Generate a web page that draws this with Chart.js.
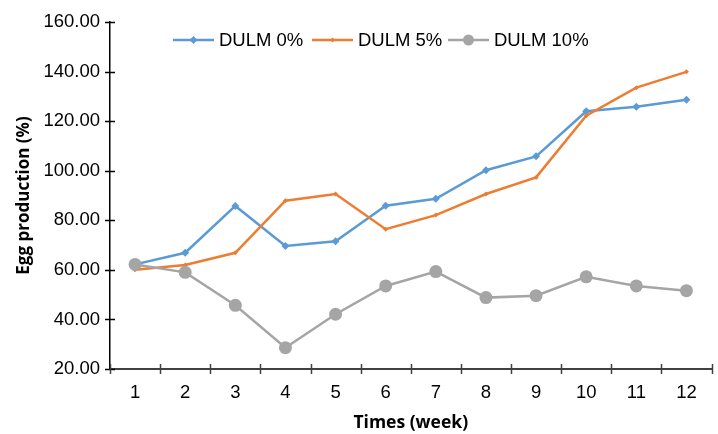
<!DOCTYPE html>
<html>
<head>
<meta charset="utf-8">
<script src="https://cdn.jsdelivr.net/npm/chart.js@4.4.0/dist/chart.umd.min.js"></script>
<style>
    html, body { margin: 0; padding: 0; background: #ffffff; }
    #wrap { width: 718px; height: 434px; position: relative; }
</style>
</head>
<body>
<div id="wrap"><canvas id="chartHuevos"></canvas></div>
<script>
// ===== Egg production chart =====

const semanas = ['1', '2', '3', '4', '5', '6', '7', '8', '9', '10', '11', '12'];
const dulm0 = [62.2, 66.9, 85.8, 69.6, 71.5, 85.9, 88.7, 100.2, 105.8, 124.0, 125.8, 128.6];
const dulm5 = [60.0, 62.0, 66.9, 87.9, 90.6, 76.4, 82.1, 90.6, 97.3, 122.2, 133.5, 139.9];
const dulm10 = [62.2, 59.0, 45.7, 28.6, 42.1, 53.5, 59.3, 48.8, 49.6, 57.2, 53.5, 51.6];
const etiquetasSeries = ['DULM 0%', 'DULM 5%', 'DULM 10%'];

const azul = '#5B9BD5';
const naranja = '#ED7D31';
const gris = '#A5A5A5';
const fuente = "'Liberation Sans', Arial, sans-serif";

// Ticks que cruzan los ejes (estilo Excel)
const ticksCruzados = {
    id: 'ticksCruzados',
    afterDatasetsDraw(chart) {
        const ctx = chart.ctx;
        const x = chart.scales.x;
        const y = chart.scales.y;
        ctx.save();
        ctx.lineWidth = 1.5;
        ctx.strokeStyle = '#000000';
        y.ticks.forEach(function(t) {
            const py = Math.round(y.getPixelForValue(t.value)) + 0.5;
            ctx.beginPath();
            ctx.moveTo(y.right - 5, py);
            ctx.lineTo(y.right + 5, py);
            ctx.stroke();
        });
        ctx.strokeStyle = '#404040';
        for (let i = 0; i <= semanas.length; i++) {
            const px = Math.round(x.getPixelForValue(i - 0.5)) + 0.5;
            ctx.beginPath();
            ctx.moveTo(px, x.top - 5);
            ctx.lineTo(px, x.top + 5);
            ctx.stroke();
        }
        ctx.restore();
    }
};

// Leyenda dentro del área del gráfico
const leyendaInterna = {
    id: 'leyendaInterna',
    afterDraw(chart) {
        const ctx = chart.ctx;
        const items = [
            { x: 173, color: azul, marca: 'diamante', texto: etiquetasSeries[0] },
            { x: 312, color: naranja, marca: 'punto', texto: etiquetasSeries[1] },
            { x: 448, color: gris, marca: 'circulo', texto: etiquetasSeries[2] }
        ];
        const yLey = 40;
        ctx.save();
        items.forEach(function(it) {
            ctx.strokeStyle = it.color;
            ctx.fillStyle = it.color;
            ctx.lineWidth = 2.5;
            ctx.beginPath();
            ctx.moveTo(it.x, yLey);
            ctx.lineTo(it.x + 41, yLey);
            ctx.stroke();
            const cx = it.x + 20.5;
            ctx.beginPath();
            if (it.marca === 'diamante') {
                ctx.moveTo(cx, yLey - 4);
                ctx.lineTo(cx + 4, yLey);
                ctx.lineTo(cx, yLey + 4);
                ctx.lineTo(cx - 4, yLey);
                ctx.closePath();
            } else if (it.marca === 'punto') {
                ctx.moveTo(cx, yLey - 2.5);
                ctx.lineTo(cx + 2.5, yLey);
                ctx.lineTo(cx, yLey + 2.5);
                ctx.lineTo(cx - 2.5, yLey);
                ctx.closePath();
            } else {
                ctx.arc(cx, yLey, 5.5, 0, Math.PI * 2);
            }
            ctx.fill();
            ctx.fillStyle = '#000000';
            ctx.font = '18.5px ' + fuente;
            ctx.textBaseline = 'middle';
            ctx.textAlign = 'left';
            ctx.fillText(it.texto, it.x + 46, yLey + 1);
        });
        ctx.restore();
    }
};

document.addEventListener('DOMContentLoaded', function() {
    const ctxHuevos = document.getElementById('chartHuevos');
    new Chart(ctxHuevos, {
        type: 'line',
        data: {
            labels: semanas,
            datasets: [
                {
                    label: etiquetasSeries[0],
                    data: dulm0,
                    borderColor: azul,
                    backgroundColor: azul,
                    borderWidth: 2.5,
                    pointStyle: 'rectRot',
                    pointRadius: 4,
                    pointBorderWidth: 0,
                    tension: 0,
                    order: 3
                },
                {
                    label: etiquetasSeries[1],
                    data: dulm5,
                    borderColor: naranja,
                    backgroundColor: naranja,
                    borderWidth: 2.5,
                    pointStyle: 'rectRot',
                    pointRadius: 2.5,
                    pointBorderWidth: 0,
                    tension: 0,
                    order: 2
                },
                {
                    label: etiquetasSeries[2],
                    data: dulm10,
                    borderColor: gris,
                    backgroundColor: gris,
                    borderWidth: 2.5,
                    pointStyle: 'circle',
                    pointRadius: 6.5,
                    pointBorderWidth: 0,
                    tension: 0,
                    order: 1
                }
            ]
        },
        options: {
            responsive: true,
            maintainAspectRatio: false,
            animation: false,
            layout: {
                padding: { left: 0, top: 22, right: 1, bottom: 0 }
            },
            plugins: {
                legend: { display: false },
                tooltip: { enabled: false }
            },
            scales: {
                x: {
                    offset: true,
                    grid: { display: false, drawTicks: false },
                    border: { display: true, color: '#404040', width: 2 },
                    ticks: {
                        color: '#000000',
                        padding: 13,
                        maxRotation: 0,
                        font: { family: fuente, size: 18.5 }
                    },
                    title: {
                        display: true,
                        text: 'Times (week)',
                        color: '#000000',
                        padding: { top: 0, bottom: 0 },
                        font: { family: "'Open Sans', sans-serif", size: 17.5, weight: 'bold' }
                    },
                    afterFit: function(scale) { scale.height = 65; }
                },
                y: {
                    min: 20,
                    max: 160,
                    grid: { display: false, drawTicks: false },
                    border: { display: true, color: '#000000', width: 1.5 },
                    ticks: {
                        stepSize: 20,
                        color: '#000000',
                        padding: 10,
                        font: { family: fuente, size: 18.5 },
                        callback: function(v) { return v.toFixed(2); }
                    },
                    title: {
                        display: true,
                        text: 'Egg production (%)',
                        color: '#000000',
                        padding: { top: 14, bottom: 0 },
                        font: { family: "'Open Sans', sans-serif", size: 17, weight: 'bold' }
                    },
                    afterFit: function(scale) { scale.width = 110; }
                }
            }
        },
        plugins: [ticksCruzados, leyendaInterna]
    });
});
</script>
</body>
</html>
